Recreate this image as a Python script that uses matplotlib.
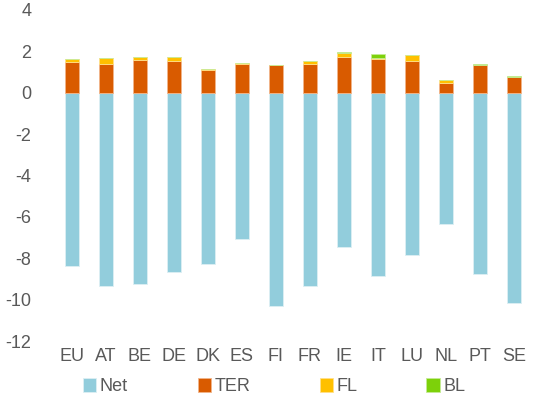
import numpy as np
import matplotlib
matplotlib.use("Agg")
import matplotlib.pyplot as plt

plt.rcParams['font.family'] = ['Liberation Sans', 'DejaVu Sans']
plt.rcParams['axes.unicode_minus'] = False

countries = ["EU", "AT", "BE", "DE", "DK", "ES", "FI", "FR", "IE", "IT", "LU", "NL", "PT", "SE"]
net = [-8.35, -9.34, -9.24, -8.66, -8.29, -7.08, -10.3, -9.35, -7.47, -8.84, -7.85, -6.35, -8.74, -10.16]
ter = [1.47, 1.37, 1.60, 1.53, 1.08, 1.37, 1.32, 1.37, 1.71, 1.61, 1.55, 0.45, 1.35, 0.77]
fl = [0.15, 0.32, 0.14, 0.19, 0.05, 0.05, 0.00, 0.18, 0.22, 0.05, 0.25, 0.16, 0.01, 0.01]
bl = [0.02, 0.00, 0.00, 0.00, 0.00, 0.03, 0.03, 0.00, 0.03, 0.23, 0.00, 0.00, 0.04, 0.03]

c_net = "#92CDDC"
c_ter = "#D95B00"
c_fl = "#FFC000"
c_bl = "#7DD10A"

x = np.arange(len(countries))
w = 0.42

fig = plt.figure(figsize=(5.33, 3.98), dpi=100)
ax = fig.add_axes([0.103, 0.143, 0.893, 0.832])

ax.bar(x, net, w, color=c_net, edgecolor="#DDEFF3", linewidth=0.6, label="Net")
ax.bar(x, ter, w, color=c_ter, edgecolor="#F2B58A", linewidth=0.6, label="TER")
b2 = np.array(ter)
ax.bar(x, fl, w, bottom=b2, color=c_fl, edgecolor="#FFE08A", linewidth=0.6, label="FL")
b3 = b2 + np.array(fl)
ax.bar(x, bl, w, bottom=b3, color=c_bl, edgecolor="#C5EB95", linewidth=0.6, label="BL")

ax.set_xlim(-0.5, len(countries) - 0.5)
ax.set_ylim(-12, 4)
ax.set_yticks(np.arange(-12, 5, 2))
ax.set_xticks(x)
ax.set_xticklabels(countries)
for s in ax.spines.values():
    s.set_visible(False)
ax.tick_params(axis="both", length=0, colors="#595959", labelsize=13)
ax.tick_params(axis="y", pad=17)
ax.tick_params(axis="x", pad=5)

# legend entries spaced like the original, one legend each
h, l = ax.get_legend_handles_labels()
xs = [0.155, 0.371, 0.600, 0.800]
for hi, li, xi in zip(h, l, xs):
    fig.legend([hi], [li], loc="center left", bbox_to_anchor=(xi, 0.028),
               frameon=False, fontsize=13, labelcolor="#595959",
               handlelength=0.75, handleheight=0.75, handletextpad=0.2,
               borderpad=0, borderaxespad=0)

fig.savefig("out.png", dpi=100)
